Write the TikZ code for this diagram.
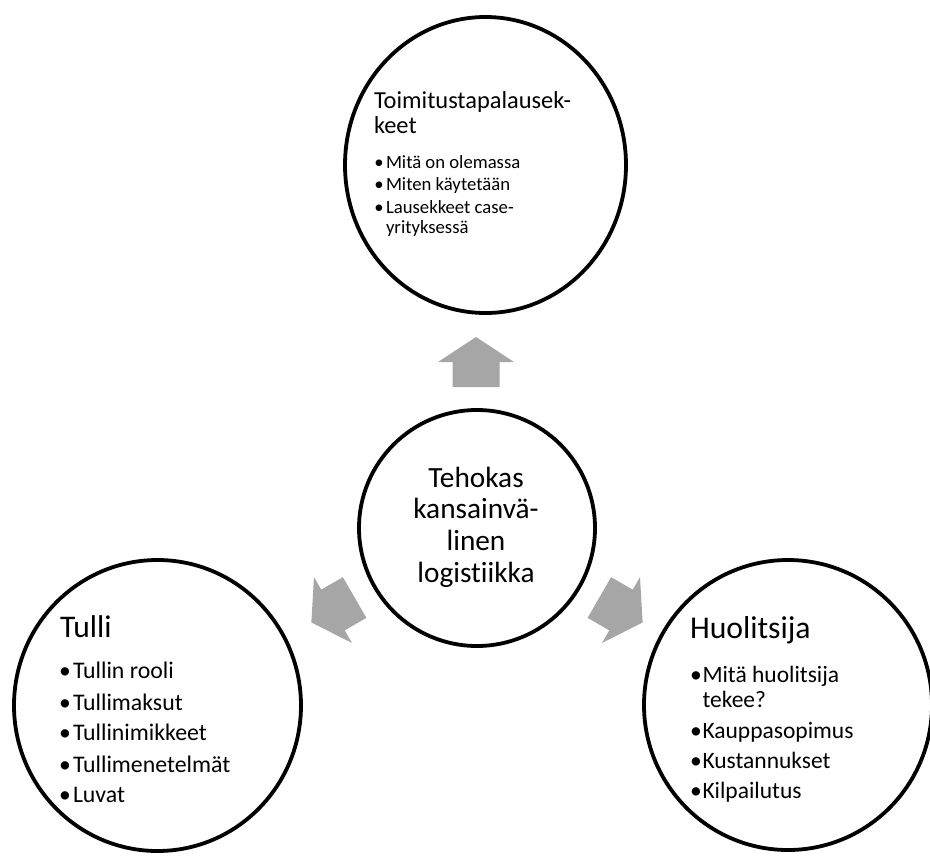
\documentclass[tikz,border=0pt]{standalone}
\usepackage{fontspec}
\setmainfont{Carlito}[Ligatures=NoCommon]
\usetikzlibrary{shapes.geometric}
\definecolor{arrowgray}{HTML}{A6A6A6}
\tikzset{
  ring/.style={draw=black, line width=3.8pt, fill=none, inner sep=0pt},
  ringc/.style={ring, circle},
  ringe/.style={ring, ellipse},
  txt/.style={anchor=base west, inner sep=0pt, outer sep=0pt, text=black},
  ctxt/.style={anchor=base, inner sep=0pt, outer sep=0pt, text=black, font=\fontsize{29.3}{31}\selectfont},
  tophead/.style={txt, font=\fontsize{24.4}{25}\selectfont},
  topitem/.style={txt, font=\fontsize{18.7}{20}\selectfont},
  topbul/.style={anchor=base, inner sep=0pt, outer sep=0pt, font=\fontsize{18.7}{20}\selectfont},
  lhead/.style={txt, font=\fontsize{31.5}{32}\selectfont},
  rhead/.style={txt, font=\fontsize{31.7}{32}\selectfont},
  litem/.style={txt, font=\fontsize{23.8}{25}\selectfont},
  ritem/.style={txt, font=\fontsize{23.5}{25}\selectfont},
  bigbul/.style={anchor=base, inner sep=0pt, outer sep=0pt, font=\fontsize{23.6}{25}\selectfont},
  blockarrow/.style={fill=arrowgray, draw=none}
}
\begin{document}
\begin{tikzpicture}[x=1pt, y=-1pt]
\useasboundingbox (0,0) rectangle (930,855);
% circles
\node[ringe, minimum width=281, minimum height=296] (top) at (485.5,165) {};
\node[ringc, minimum size=236] (mid) at (477,528) {};
\node[ringe, minimum width=287, minimum height=291] (left) at (157.5,705.5) {};
\node[ringe, minimum width=288, minimum height=290] (right) at (788,705) {};
% block arrows
\foreach \cx/\cy/\ang in {476/362/0, 333/610/120, 621/610/-120}{
  \begin{scope}[shift={(\cx,\cy)}, rotate=\ang]
    \fill[blockarrow] (0,-25) -- (38,0) -- (23.5,0) -- (23.5,25) -- (-23.5,25) -- (-23.5,0) -- (-38,0) -- cycle;
  \end{scope}
}
% top text
\node[tophead] (th1) at (374,108) {Toimitustapalausek-};
\node[tophead] (th2) at (374,133) {keet};
\node[topbul] (tb1) at (379,168) {•};
\node[topbul] (tb2) at (379,190) {•};
\node[topbul] (tb3) at (379,213) {•};
\node[topitem] (ti1) at (386,168) {Mitä on olemassa};
\node[topitem] (ti2) at (386,190) {Miten käytetään};
\node[topitem] (ti3) at (386,213) {Lausekkeet case-};
\node[topitem] (ti4) at (386,233) {yrityksessä};
% center text
\node[ctxt] (c1) at (476,487) {Tehokas};
\node[ctxt] (c2) at (476,518) {kansainvä-};
\node[ctxt] (c3) at (476,550) {linen};
\node[ctxt] (c4) at (476,582) {logistiikka};
% left text
\node[lhead] (lh) at (60,637) {Tulli};
\foreach \y [count=\i] in {678,710,740,772,802}{
  \node[bigbul] (lb\i) at (65,\y) {•};
}
\node[litem] (l1) at (73,678) {Tullin rooli};
\node[litem] (l2) at (73,710) {Tullimaksut};
\node[litem] (l3) at (73,740) {Tullinimikkeet};
\node[litem] (l4) at (73,772) {Tullimenetelmät};
\node[litem] (l5) at (73,802) {Luvat};
% right text
\node[rhead] (rh) at (690,638) {Huolitsija};
\foreach \y [count=\i] in {682,738,768,798}{
  \node[bigbul] (rb\i) at (696,\y) {•};
}
\node[ritem] (r1) at (702.5,682) {Mitä huolitsija};
\node[ritem] (r2) at (702.5,707) {tekee?};
\node[ritem] (r3) at (702.5,738) {Kauppasopimus};
\node[ritem] (r4) at (702.5,768) {Kustannukset};
\node[ritem] (r5) at (702.5,798) {Kilpailutus};
\end{tikzpicture}
\end{document}
